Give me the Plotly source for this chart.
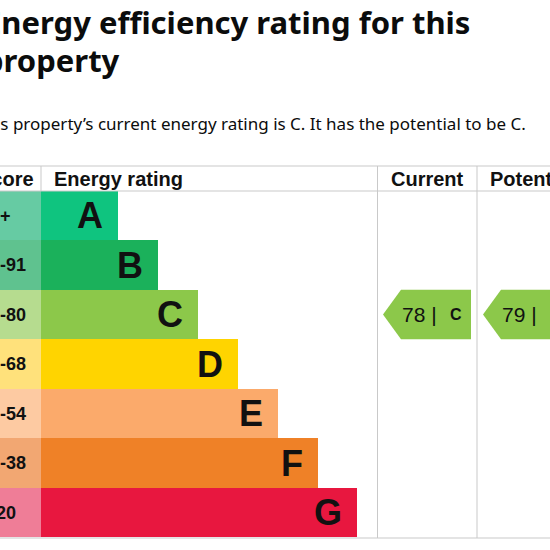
import plotly.graph_objects as go

# ---- data ----
ratings = ["A", "B", "C", "D", "E", "F", "G"]
score_ranges = ["92+", "81-91", "69-80", "55-68", "39-54", "21-38", "1-20"]
band_min = [92, 81, 69, 55, 39, 21, 1]
bar_lengths = [77, 117, 157, 197, 237, 277, 316]
current_score = 78
potential_score = 79
current_band = "C"
potential_band = "C"

bar_colors = ["#0fc47f", "#1bb15b", "#8cc84a", "#ffd400", "#fbaa6b", "#ef8127", "#e8173f"]
score_colors = ["#66cba3", "#5fc28f", "#b6dc8f", "#ffe17b", "#fdcaa2", "#f2a772", "#ef7d97"]
arrow_color = "#8cc84a"
grid_color = "#c9c9c9"

W = H = 550
X0 = 41          # pixel where rating bars start
ROW0 = 215.5     # pixel centre of first row
ROWH = 49.5      # row height in pixels


def px(x):
    return x / W


def py(y):
    return 1 - y / H


def band_index(score):
    for i, m in enumerate(band_min):
        if score >= m:
            return i
    return len(band_min) - 1


fig = go.Figure()

rows = list(range(len(ratings)))

# score column
fig.add_trace(go.Bar(
    y=rows, x=[X0 + 30] * len(rows), base=[-(X0 + 30)] * len(rows),
    orientation="h", width=1, marker=dict(color=score_colors, line=dict(width=0)),
    hoverinfo="skip", showlegend=False))

# rating bars
fig.add_trace(go.Bar(
    y=rows, x=bar_lengths, orientation="h", width=1,
    marker=dict(color=bar_colors, line=dict(width=0)),
    hoverinfo="skip", showlegend=False))

annotations = []
# rating letters
for i, (r, L) in enumerate(zip(ratings, bar_lengths)):
    annotations.append(dict(
        x=L - 13, y=i, xref="x", yref="y", text="<b>%s</b>" % r, showarrow=False,
        xanchor="right", yanchor="middle",
        font=dict(family="Liberation Sans, Arial", size=36, color="#111111")))
# score labels
for i, s in enumerate(score_ranges):
    annotations.append(dict(
        x=px(-22), y=py(ROW0 + ROWH * i), xref="paper", yref="paper",
        text="<b>%s</b>" % s, showarrow=False, xanchor="left", yanchor="middle",
        font=dict(family="Liberation Sans, Arial", size=18, color="#111111")))

# headers
hdr_font = dict(family="Liberation Sans, Arial", size=20, color="#111111")
for text, x in [("Score", -24), ("Energy rating", 52), ("Current", 389), ("Potential", 488)]:
    annotations.append(dict(
        x=px(x), y=py(179), xref="paper", yref="paper", text="<b>%s</b>" % text,
        showarrow=False, xanchor="left", yanchor="middle", font=hdr_font))

# title / subtitle
title_font = dict(family="Noto Sans", size=31, color="#0b0c0c")
annotations.append(dict(
    x=px(-18.5), y=py(22), xref="paper", yref="paper",
    text="<b>Energy efficiency rating for this</b>", showarrow=False,
    xanchor="left", yanchor="middle", font=title_font))
annotations.append(dict(
    x=px(-18.5), y=py(60), xref="paper", yref="paper",
    text="<b>property</b>", showarrow=False,
    xanchor="left", yanchor="middle", font=title_font))
annotations.append(dict(
    x=px(-26), y=py(123), xref="paper", yref="paper",
    text="This property\u2019s current energy rating is %s. It has the potential to be %s."
         % (current_band, potential_band),
    showarrow=False, xanchor="left", yanchor="middle",
    font=dict(family="Noto Sans", size=17, color="#0b0c0c")))

shapes = []
# grid lines
for y in [166, 191, 538]:
    shapes.append(dict(type="line", xref="paper", yref="paper", x0=0, x1=1,
                       y0=py(y), y1=py(y), line=dict(color=grid_color, width=1)))
for x, y0 in [(377.5, 166), (477, 166)]:
    shapes.append(dict(type="line", xref="paper", yref="paper", x0=px(x), x1=px(x),
                       y0=py(y0), y1=py(538), line=dict(color=grid_color, width=1)))
shapes.append(dict(type="line", xref="paper", yref="paper", x0=px(41), x1=px(41),
                   y0=py(166), y1=py(191), line=dict(color=grid_color, width=1)))

# arrows (current / potential)
for score, band, col_left in [(current_score, current_band, 377),
                               (potential_score, potential_band, 477)]:
    i = band_index(score)
    tip = col_left + 6 - X0
    notch = col_left + 24 - X0
    right = col_left + 94 - X0
    top, bot = i - 0.5, i + 0.5
    path = "M %f %f L %f %f L %f %f L %f %f L %f %f Z" % (
        tip, i, notch, top, right, top, right, bot, notch, bot)
    shapes.append(dict(type="path", xref="x", yref="y", path=path,
                       fillcolor=arrow_color, line=dict(width=0), layer="above"))
    annotations.append(dict(
        x=col_left + 23 - X0, y=i, xref="x", yref="y", text="%d |" % score,
        showarrow=False, xanchor="left", yanchor="middle",
        font=dict(family="Liberation Sans, Arial", size=21, color="#111111")))
    annotations.append(dict(
        x=col_left + 71 - X0, y=i, xref="x", yref="y", text="<b>%s</b>" % band,
        showarrow=False, xanchor="left", yanchor="middle",
        font=dict(family="Liberation Sans, Arial", size=16, color="#111111")))

fig.update_layout(
    width=W, height=H, margin=dict(l=0, r=0, t=0, b=0),
    paper_bgcolor="white", plot_bgcolor="white",
    xaxis=dict(range=[-X0, W - X0], visible=False, fixedrange=True),
    yaxis=dict(range=[(H - ROW0) / ROWH, -ROW0 / ROWH], visible=False, fixedrange=True),
    bargap=0, barmode="overlay",
    shapes=shapes, annotations=annotations, showlegend=False)

fig.write_html("out.html")
